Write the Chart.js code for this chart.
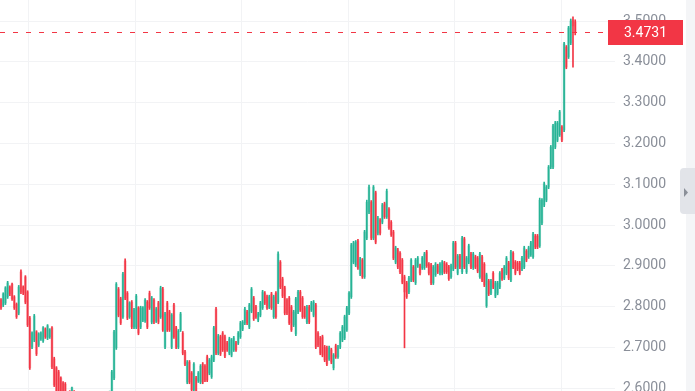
<!DOCTYPE html>
<html>
<head>
<meta charset="utf-8">
<title>Price chart</title>
<script src="https://cdn.jsdelivr.net/npm/chart.js@4.4.1/dist/chart.umd.min.js"></script>
<style>
    html, body { margin: 0; padding: 0; background: #fff; }
    #wrap { position: relative; width: 695px; height: 391px; overflow: hidden; }
</style>
</head>
<body>
<div id="wrap"><canvas id="chart1" width="695" height="391"></canvas></div>
<script>
// candle data start
var opens = [
    2.816, 2.804, 2.809, 2.824, 2.848, 2.855, 2.824, 2.806, 2.784, 2.885,
    2.848, 2.873, 2.836, 2.772, 2.701, 2.718, 2.738, 2.706, 2.721, 2.716,
    2.745, 2.723, 2.726, 2.748, 2.672, 2.650, 2.640, 2.625, 2.613, 2.610,
    2.547, 2.591, 2.556, 2.591, 2.576, 2.527, 2.559, 2.517, 2.547, 2.561,
    2.534, 2.552, 2.571, 2.547, 2.561, 2.581, 2.559, 2.571, 2.588, 2.571,
    2.583, 2.625, 2.699, 2.843, 2.819, 2.775, 2.912, 2.833, 2.775, 2.811,
    2.750, 2.750, 2.797, 2.750, 2.767, 2.765, 2.811, 2.833, 2.762, 2.816,
    2.765, 2.809, 2.775, 2.843, 2.701, 2.809, 2.787, 2.701, 2.804, 2.748,
    2.701, 2.743, 2.735, 2.689, 2.615, 2.664, 2.637, 2.596, 2.625, 2.618,
    2.615, 2.659, 2.654, 2.677, 2.637, 2.628, 2.669, 2.794, 2.686, 2.726,
    2.735, 2.726, 2.711, 2.686, 2.681, 2.694, 2.711, 2.711, 2.726, 2.745,
    2.760, 2.787, 2.750, 2.789, 2.821, 2.799, 2.767, 2.779, 2.797, 2.833,
    2.824, 2.799, 2.831, 2.775, 2.833, 2.811, 2.909, 2.868, 2.846, 2.816,
    2.821, 2.799, 2.755, 2.733, 2.787, 2.836, 2.821, 2.797, 2.762, 2.799,
    2.792, 2.779, 2.804, 2.735, 2.723, 2.726, 2.701, 2.699, 2.672, 2.694,
    2.650, 2.704, 2.677, 2.701, 2.718, 2.723, 2.743, 2.784, 2.824, 2.909,
    2.902, 2.961, 2.880, 2.914, 2.873, 2.968, 3.032, 3.056, 2.968, 3.079,
    2.980, 3.012, 3.007, 3.052, 3.020, 3.039, 3.007, 2.983, 2.909, 2.939,
    2.931, 2.914, 2.873, 2.858, 2.836, 2.865, 2.897, 2.858, 2.900, 2.900,
    2.895, 2.895, 2.934, 2.904, 2.902, 2.858, 2.878, 2.900, 2.882, 2.882,
    2.907, 2.904, 2.897, 2.873, 2.892, 2.956, 2.882, 2.924, 2.885, 2.966,
    2.885, 2.909, 2.929, 2.895, 2.922, 2.919, 2.873, 2.922, 2.904, 2.802,
    2.863, 2.833, 2.882, 2.826, 2.833, 2.848, 2.890, 2.870, 2.882, 2.907,
    2.865, 2.931, 2.909, 2.907, 2.907, 2.892, 2.897, 2.936, 2.922, 2.927,
    2.922, 2.973, 2.973, 2.949, 3.005, 3.049, 3.061, 3.093, 3.142, 3.142,
    3.191, 3.208, 3.221, 3.240, 3.233, 3.436, 3.412, 3.446, 3.503, 3.498
];
var highs = [
    2.820, 2.834, 2.849, 2.862, 2.851, 2.858, 2.827, 2.809, 2.852, 2.890,
    2.851, 2.876, 2.839, 2.776, 2.738, 2.781, 2.741, 2.736, 2.738, 2.751,
    2.748, 2.756, 2.746, 2.751, 2.676, 2.653, 2.644, 2.628, 2.616, 2.614,
    2.587, 2.594, 2.603, 2.594, 2.580, 2.570, 2.563, 2.556, 2.570, 2.565,
    2.575, 2.580, 2.575, 2.585, 2.589, 2.585, 2.589, 2.591, 2.591, 2.593,
    2.644, 2.742, 2.859, 2.847, 2.823, 2.884, 2.917, 2.837, 2.812, 2.815,
    2.796, 2.830, 2.800, 2.801, 2.800, 2.820, 2.815, 2.838, 2.825, 2.820,
    2.798, 2.813, 2.850, 2.847, 2.786, 2.813, 2.791, 2.783, 2.808, 2.752,
    2.744, 2.786, 2.739, 2.693, 2.668, 2.668, 2.641, 2.663, 2.629, 2.641,
    2.658, 2.663, 2.658, 2.681, 2.673, 2.681, 2.752, 2.798, 2.732, 2.730,
    2.739, 2.730, 2.715, 2.725, 2.722, 2.727, 2.715, 2.739, 2.764, 2.766,
    2.798, 2.791, 2.808, 2.847, 2.825, 2.803, 2.786, 2.813, 2.840, 2.837,
    2.828, 2.828, 2.835, 2.828, 2.837, 2.934, 2.913, 2.872, 2.850, 2.820,
    2.825, 2.803, 2.791, 2.823, 2.840, 2.840, 2.825, 2.801, 2.803, 2.803,
    2.813, 2.815, 2.808, 2.739, 2.727, 2.730, 2.705, 2.703, 2.703, 2.698,
    2.685, 2.708, 2.705, 2.739, 2.754, 2.779, 2.801, 2.837, 2.955, 2.960,
    2.962, 2.965, 2.921, 2.918, 2.987, 3.061, 3.098, 3.060, 3.097, 3.083,
    3.021, 3.016, 3.053, 3.056, 3.088, 3.043, 3.011, 2.987, 2.948, 2.943,
    2.935, 2.918, 2.877, 2.862, 2.874, 2.918, 2.901, 2.918, 2.923, 2.904,
    2.923, 2.933, 2.938, 2.908, 2.906, 2.901, 2.908, 2.904, 2.908, 2.913,
    2.911, 2.908, 2.901, 2.904, 2.960, 2.960, 2.928, 2.928, 2.972, 2.970,
    2.923, 2.953, 2.933, 2.933, 2.926, 2.923, 2.933, 2.926, 2.908, 2.882,
    2.867, 2.867, 2.886, 2.862, 2.862, 2.886, 2.894, 2.901, 2.923, 2.911,
    2.938, 2.935, 2.913, 2.911, 2.911, 2.923, 2.948, 2.940, 2.948, 2.960,
    2.982, 2.977, 2.977, 3.066, 3.065, 3.105, 3.097, 3.146, 3.195, 3.247,
    3.254, 3.254, 3.281, 3.244, 3.448, 3.440, 3.487, 3.505, 3.510, 3.503
];
var lows = [
    2.793, 2.800, 2.805, 2.820, 2.827, 2.815, 2.793, 2.771, 2.780, 2.832,
    2.829, 2.807, 2.751, 2.646, 2.697, 2.714, 2.680, 2.702, 2.717, 2.712,
    2.722, 2.719, 2.722, 2.648, 2.604, 2.587, 2.586, 2.572, 2.562, 2.552,
    2.543, 2.548, 2.552, 2.557, 2.530, 2.523, 2.518, 2.513, 2.543, 2.528,
    2.530, 2.548, 2.543, 2.543, 2.557, 2.555, 2.555, 2.567, 2.565, 2.567,
    2.579, 2.621, 2.695, 2.775, 2.756, 2.771, 2.817, 2.768, 2.771, 2.746,
    2.746, 2.746, 2.731, 2.746, 2.763, 2.761, 2.746, 2.793, 2.758, 2.758,
    2.761, 2.758, 2.771, 2.739, 2.697, 2.739, 2.739, 2.697, 2.722, 2.697,
    2.697, 2.739, 2.682, 2.655, 2.611, 2.611, 2.592, 2.592, 2.579, 2.614,
    2.611, 2.611, 2.616, 2.616, 2.633, 2.624, 2.665, 2.682, 2.682, 2.680,
    2.690, 2.675, 2.690, 2.682, 2.677, 2.690, 2.690, 2.707, 2.722, 2.741,
    2.756, 2.756, 2.746, 2.785, 2.766, 2.771, 2.763, 2.775, 2.793, 2.805,
    2.793, 2.795, 2.793, 2.771, 2.771, 2.807, 2.844, 2.822, 2.780, 2.780,
    2.756, 2.739, 2.751, 2.729, 2.783, 2.788, 2.771, 2.771, 2.758, 2.758,
    2.788, 2.775, 2.697, 2.702, 2.682, 2.677, 2.665, 2.655, 2.668, 2.660,
    2.645, 2.673, 2.673, 2.697, 2.714, 2.719, 2.739, 2.780, 2.820, 2.905,
    2.898, 2.891, 2.876, 2.869, 2.869, 2.964, 3.028, 2.964, 2.964, 2.954,
    2.976, 2.976, 3.003, 3.016, 3.016, 2.989, 2.972, 2.915, 2.905, 2.893,
    2.881, 2.856, 2.699, 2.820, 2.832, 2.861, 2.861, 2.854, 2.896, 2.878,
    2.891, 2.891, 2.896, 2.878, 2.854, 2.854, 2.874, 2.881, 2.878, 2.878,
    2.881, 2.881, 2.864, 2.869, 2.888, 2.893, 2.878, 2.893, 2.881, 2.893,
    2.881, 2.905, 2.893, 2.891, 2.893, 2.883, 2.869, 2.861, 2.849, 2.798,
    2.827, 2.829, 2.844, 2.822, 2.829, 2.844, 2.864, 2.866, 2.878, 2.866,
    2.861, 2.893, 2.878, 2.888, 2.878, 2.888, 2.893, 2.910, 2.918, 2.923,
    2.918, 2.942, 2.942, 2.945, 3.001, 3.045, 3.057, 3.089, 3.138, 3.138,
    3.187, 3.204, 3.217, 3.204, 3.229, 3.383, 3.408, 3.442, 3.387, 3.466
];
var closes = [
    2.797, 2.831, 2.846, 2.858, 2.831, 2.819, 2.797, 2.775, 2.848, 2.836,
    2.833, 2.811, 2.755, 2.650, 2.735, 2.777, 2.684, 2.733, 2.735, 2.748,
    2.726, 2.753, 2.743, 2.652, 2.608, 2.591, 2.591, 2.576, 2.566, 2.556,
    2.583, 2.552, 2.601, 2.561, 2.534, 2.566, 2.522, 2.552, 2.566, 2.532,
    2.571, 2.576, 2.547, 2.581, 2.586, 2.559, 2.586, 2.588, 2.569, 2.591,
    2.640, 2.738, 2.855, 2.779, 2.760, 2.880, 2.821, 2.772, 2.809, 2.750,
    2.792, 2.826, 2.735, 2.797, 2.797, 2.816, 2.750, 2.797, 2.821, 2.762,
    2.794, 2.762, 2.846, 2.743, 2.782, 2.743, 2.743, 2.779, 2.726, 2.701,
    2.740, 2.782, 2.686, 2.659, 2.664, 2.615, 2.596, 2.659, 2.583, 2.637,
    2.654, 2.615, 2.620, 2.620, 2.669, 2.677, 2.748, 2.686, 2.728, 2.684,
    2.694, 2.679, 2.694, 2.721, 2.718, 2.723, 2.694, 2.735, 2.760, 2.762,
    2.794, 2.760, 2.804, 2.843, 2.770, 2.775, 2.782, 2.809, 2.836, 2.809,
    2.797, 2.824, 2.797, 2.824, 2.775, 2.929, 2.848, 2.826, 2.784, 2.784,
    2.760, 2.743, 2.787, 2.819, 2.836, 2.792, 2.775, 2.775, 2.799, 2.762,
    2.809, 2.811, 2.701, 2.706, 2.686, 2.681, 2.669, 2.659, 2.699, 2.664,
    2.681, 2.677, 2.701, 2.735, 2.750, 2.775, 2.797, 2.833, 2.951, 2.956,
    2.958, 2.895, 2.917, 2.873, 2.983, 3.056, 3.093, 2.968, 3.093, 2.958,
    3.017, 2.980, 3.049, 3.020, 3.083, 2.993, 2.976, 2.919, 2.944, 2.897,
    2.885, 2.860, 2.836, 2.824, 2.870, 2.914, 2.865, 2.914, 2.919, 2.882,
    2.919, 2.929, 2.900, 2.882, 2.858, 2.897, 2.904, 2.885, 2.904, 2.909,
    2.885, 2.885, 2.868, 2.900, 2.956, 2.897, 2.924, 2.897, 2.968, 2.897,
    2.919, 2.949, 2.897, 2.929, 2.897, 2.887, 2.929, 2.865, 2.853, 2.878,
    2.831, 2.863, 2.848, 2.858, 2.858, 2.882, 2.868, 2.897, 2.919, 2.870,
    2.934, 2.897, 2.882, 2.892, 2.882, 2.919, 2.944, 2.914, 2.944, 2.956,
    2.978, 2.946, 2.946, 3.061, 3.061, 3.101, 3.093, 3.142, 3.191, 3.243,
    3.250, 3.250, 3.277, 3.208, 3.444, 3.387, 3.483, 3.500, 3.488, 3.4731
];
// candle data end

// price axis ticks and day separators (candle index)
var yTicks = [2.6, 2.7, 2.8, 2.9, 3.0, 3.1, 3.2, 3.3, 3.4, 3.5];
var dayLines = [12.6, 60.6, 108.6, 156.6, 204.6, 252.6];

var upColor = '#26b395';
var downColor = '#f23645';
var upBody = 'rgba(38,179,149,0.42)';
var downBody = 'rgba(242,54,69,0.42)';
var gridColor = '#f2f3f5';

var bodyData = [], wickData = [], bodyColors = [], wickColors = [];
for (var i = 0; i < closes.length; i++) {
    var up = closes[i] >= opens[i];
    bodyData.push({ x: i, y: [opens[i], closes[i]] });
    wickData.push({ x: i, y: [lows[i], highs[i]] });
    bodyColors.push(up ? upBody : downBody);
    wickColors.push(up ? upColor : downColor);
}

// last price line + label + side tab
var lastPrice = {
    id: 'lastPrice',
    afterDraw: function (chart) {
        var ctx = chart.ctx;
        var price = closes[closes.length - 1];
        var y = Math.round(chart.scales.y.getPixelForValue(price)) + 0.5;
        ctx.save();

        ctx.strokeStyle = downColor;
        ctx.lineWidth = 1;
        ctx.setLineDash([5, 8]);
        ctx.beginPath();
        ctx.moveTo(0, y);
        ctx.lineTo(608, y);
        ctx.stroke();
        ctx.setLineDash([]);

        ctx.fillStyle = downColor;
        ctx.fillRect(608, y - 12.5, 75, 25);
        ctx.fillStyle = '#ffffff';
        ctx.font = '14px Roboto';
        ctx.textAlign = 'center';
        ctx.textBaseline = 'middle';
        ctx.fillText(price.toFixed(4), 645.5, y + 0.5);

        ctx.fillStyle = '#f4f5f7';
        ctx.fillRect(686, 0, 9, 391);
        ctx.fillStyle = '#e2e4e9';
        ctx.beginPath();
        ctx.roundRect(680, 168, 22, 46, 4);
        ctx.fill();
        ctx.fillStyle = '#8b9099';
        ctx.beginPath();
        ctx.moveTo(684, 188);
        ctx.lineTo(688, 192.5);
        ctx.lineTo(684, 197);
        ctx.closePath();
        ctx.fill();

        ctx.restore();
    }
};

Chart.defaults.font.family = 'Roboto';

new Chart("chart1", {
    type: "bar",
    data: {
        datasets: [{
            data: wickData,
            backgroundColor: wickColors,
            barThickness: 1,
            grouped: false,
            order: 0
        }, {
            data: bodyData,
            backgroundColor: bodyColors,
            barThickness: 2,
            grouped: false,
            order: 1
        }]
    },
    options: {
        responsive: false,
        animation: false,
        devicePixelRatio: 1,
        events: [],
        layout: { padding: 0 },
        plugins: {
            legend: { display: false },
            tooltip: { enabled: false }
        },
        scales: {
            x: {
                type: 'linear',
                min: -0.45,
                max: 276.95,
                offset: false,
                afterBuildTicks: function (scale) {
                    scale.ticks = dayLines.map(function (v) { return { value: v }; });
                },
                ticks: { display: false },
                grid: { color: gridColor, drawTicks: false, offset: false },
                border: { display: false }
            },
            y: {
                position: 'right',
                min: 2.5932,
                max: 3.5515,
                afterBuildTicks: function (scale) {
                    scale.ticks = yTicks.map(function (v) { return { value: v }; });
                },
                afterFit: function (scale) {
                    scale.width = 80;
                    scale.paddingTop = 0;
                    scale.paddingBottom = 0;
                },
                ticks: {
                    padding: 8,
                    color: '#8a8f99',
                    font: { size: 14 },
                    callback: function (v) { return v.toFixed(4); }
                },
                grid: { color: gridColor, drawTicks: false },
                border: { display: false }
            }
        }
    },
    plugins: [lastPrice]
});
</script>
</body>
</html>
